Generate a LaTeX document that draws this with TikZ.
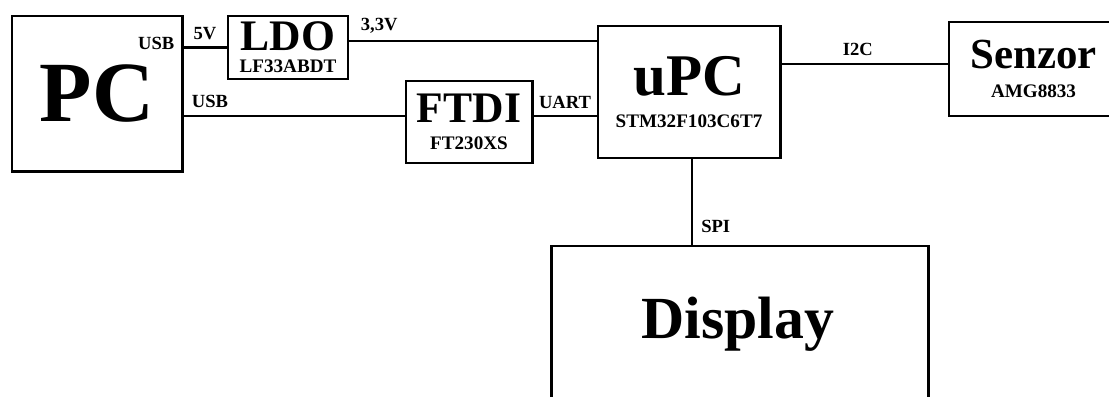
\documentclass[tikz,border=0pt]{standalone}
\usepackage{fontspec}
\setmainfont{Liberation Serif}
\usetikzlibrary{positioning, calc}
\newcommand{\fsz}[1]{\fontsize{#1}{#1}\selectfont\bfseries}
\tikzset{
  blk/.style={draw, line width=2.1pt, align=center, inner sep=0pt},
  wire/.style={line width=1.8pt},
  lbl/.style={font=\fsz{13.2}, inner sep=0pt, text depth=0pt},
}

\begin{document}
\begin{tikzpicture}[x=0.025cm, y=-0.025cm]
\useasboundingbox (0,0) rectangle (1109,396);
\clip (0,0) rectangle (1109,396);

% ── blocks ──────────────────────────────────────────────────────────────
\node[blk, minimum width=4.25cm, minimum height=3.875cm] (pc) at (97,93.5) {\fsz{61}PC};
\node[blk, minimum width=3cm, minimum height=1.575cm] (ldo) at (288,47.5)
  {\fsz{31}LDO\\[3.5pt]\fsz{13.6}LF33ABDT};
\node[blk, minimum width=3.15cm, minimum height=2.05cm] (ftdi) at (469,122)
  {\fsz{31}FTDI\\[7pt]\fsz{13.6}FT230XS};
\node[blk, minimum width=4.55cm, minimum height=3.3cm] (upc) at (689,92)
  {\fsz{42}uPC\\[11.3pt]\fsz{13.6}STM32F103C6T7};
\node[blk, minimum width=4.225cm, minimum height=2.35cm] (senz) at (1033.5,69)
  {\fsz{30.5}Senzor\\[8.4pt]\fsz{13.6}AMG8833};
\node[blk, minimum width=9.4cm, minimum height=4.85cm] (disp) at (740,343) {};
\node[font=\fsz{42.5}, anchor=base] (dispT) at (738,338) {Display};

% ── connections ─────────────────────────────────────────────────────────
\draw[wire] (ldo.west -| pc.east) node[lbl, anchor=south east, xshift=-5.7pt, yshift=-2.1pt] {USB}
  -- node[lbl, above=5pt] {5V} (ldo.west);
\coordinate (v33) at ($(ldo.east)+(0,-6.5)$);
\draw[wire] (v33) -- node[lbl, pos=0.12, above=6.4pt] {3,3V} (v33 -| upc.west);
\coordinate (usb2) at ($(ftdi.west)+(0,-6)$);
\draw[wire] (usb2 -| pc.east) -- node[lbl, pos=0.12, above=5pt] {USB} (usb2);
\draw[wire] (usb2 -| ftdi.east) -- node[lbl, above=4.3pt] {UART} (usb2 -| upc.west);
\coordinate (i2c) at ($(senz.west)+(0,-5)$);
\draw[wire] (i2c -| upc.east) -- node[lbl, pos=0.46, above=5pt] {I2C} (i2c);
\coordinate (spi) at ($(upc.south)+(3,0)$);
\draw[wire] (spi) -- (spi |- disp.north) node[lbl, anchor=south west, xshift=5.7pt, yshift=7.8pt] {SPI};

\end{tikzpicture}
\end{document}
